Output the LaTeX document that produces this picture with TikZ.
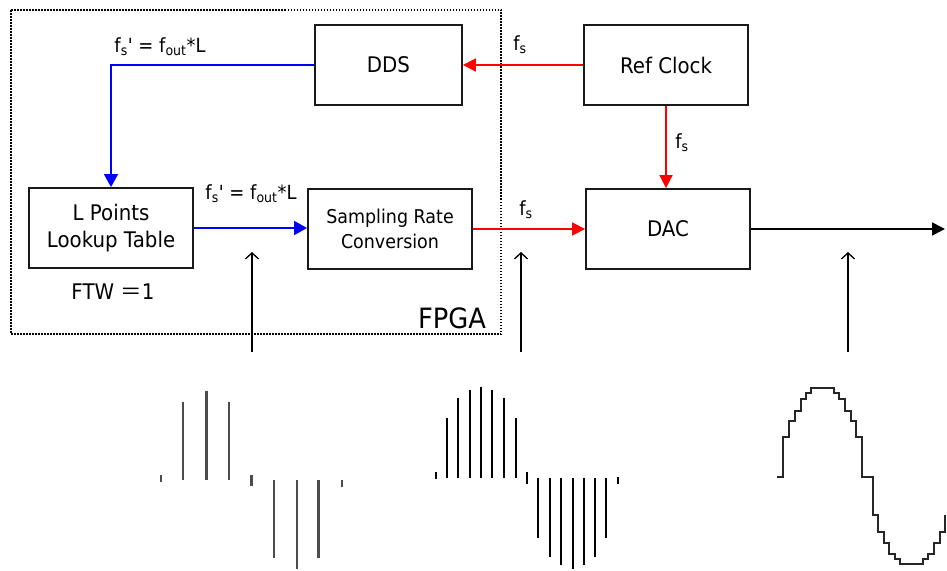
\documentclass[tikz,border=0pt]{standalone}
\usepackage{fontspec}
\newfontfamily\tah[FakeStretch=0.92]{DejaVu Sans}
\newfontfamily\cjkf{Noto Sans CJK SC}
\usetikzlibrary{arrows.meta}
\tikzset{
  box/.style={draw=black!90, line width=1.8pt, inner sep=0pt, minimum width=164pt, minimum height=80pt, align=center, font=\tah\fontsize{21.5}{26.5}\selectfont},
  redc/.style={draw=red, line width=1.6pt, -{Triangle[length=13pt,width=13pt]}},
  bluec/.style={draw=blue, line width=1.6pt, -{Triangle[length=13pt,width=14pt]}},
  blackc/.style={draw=black, line width=1.6pt, -{Triangle[length=13pt,width=13pt]}},
  lbl/.style={inner sep=0pt, font=\tah\fontsize{19.5}{22}\selectfont},
  upar/.style={draw=black, line width=1.3pt, -{Straight Barb[length=6pt,width=13pt]}},
  stemA/.style={draw=black!70, line width=2.4pt},
  stemB/.style={draw=black, line width=2pt},
  stair/.style={draw=black!85, line width=1.8pt},
  frame/.style={draw=black, line width=1.6pt, dash pattern=on 1.5pt off 1.5pt}
}
\begin{document}
\begin{tikzpicture}[x=1pt,y=-1pt]
\useasboundingbox (0,0) rectangle (947,570);
\fill[white] (0,0) rectangle (947,570);

% FPGA frame
\draw[frame] (11,10) rectangle (501,334);
\node[inner sep=0pt, font=\tah\fontsize{28}{30}\selectfont] (fpga) at (452,318) {FPGA};

% blocks
\node[box, minimum width=147pt] (dds) at (388.5,65) {DDS};
\node[box] (ref) at (666,65) {Ref Clock};
\node[box] (lpt) at (111,228) {L Points\\Lookup Table};
\node[box, font=\tah\fontsize{19}{24.7}\selectfont] (src) at (390,229) {Sampling Rate\\Conversion};
\node[box] (dac) at (668,229) {DAC};

% connectors
\draw[redc] (ref.west) -- (dds.east);
\draw[redc] (ref.south) -- (ref.south |- dac.north);
\draw[redc] (src.east) -- (dac.west);
\draw[bluec] (dds.west) -| (lpt.north);
\draw[bluec] (lpt.east) -- (lpt.east -| src.west);
\coordinate (out) at (945,229);
\draw[blackc] (dac.east) -- (out);

% labels
\node[lbl] (l1) at (160,47) {f\textsubscript{s}' = f\textsubscript{out}*L};
\node[lbl] (l2) at (251,194) {f\textsubscript{s}' = f\textsubscript{out}*L};
\node[lbl] (l3) at (520,45) {f\textsubscript{s}};
\node[lbl] (l4) at (682,143) {f\textsubscript{s}};
\node[lbl] (l5) at (526,210) {f\textsubscript{s}};
\node[inner sep=0pt, font=\tah\fontsize{21.5}{24}\selectfont] (ftw) at (113,292) {FTW {\cjkf ＝}1};

% upward arrows
\coordinate (u1a) at (252,352); \coordinate (u1b) at (252,252);
\coordinate (u2a) at (521,352); \coordinate (u2b) at (521,252);
\coordinate (u3a) at (848,352); \coordinate (u3b) at (848,252);
\draw[upar] (u1a) -- (u1b);
\draw[upar] (u2a) -- (u2b);
\draw[upar] (u3a) -- (u3b);

% waveform 1: L-point samples
\foreach \x/\a/\b in {161/475/482, 182.7/401.7/480, 206.3/390.7/480, 228.7/401.7/480, 251.3/475/486, 273.7/480/557.7, 296.7/480/569, 318.3/480/557.7, 342/480/487}
  \draw[stemA] (\x,\a) -- (\x,\b);

% waveform 2: converted samples
\foreach \x/\a/\b in {436/472/479, 447/417.7/478, 458.3/398.3/478, 470.3/390/478, 481.3/386.7/478, 492.3/390/478, 504/398.3/478, 516/417.7/478, 527/472/484, 538/478/538.3, 549.7/478/556.7, 560.7/478/565, 572.7/478/569.3, 583.7/478/565, 595/478/556.7, 606.3/478/538.3, 618.3/477/484}
  \draw[stemB] (\x,\a) -- (\x,\b);

% waveform 3: DAC staircase
\begin{scope}[xshift=760pt, yshift=-370pt, x=0.33333pt, y=-0.33333pt]
\draw[stair] (52,320) -- (70,320) -- (70,202) -- (88,202) -- (88,153) -- (104,153) -- (104,123) -- (122,123) -- (122,88) -- (137,88) -- (137,70) -- (153,70) -- (153,53) -- (222,53) -- (222,70) -- (238,70) -- (238,88) -- (255,88) -- (255,123) -- (272,123) -- (272,153) -- (288,153) -- (288,202) -- (305,202) -- (305,320) -- (340,320) -- (340,436) -- (354,436) -- (354,486) -- (372,486) -- (372,518) -- (388,518) -- (388,551) -- (404,551) -- (404,568) -- (420,568) -- (420,583) -- (490,583) -- (490,568) -- (505,568) -- (505,551) -- (522,551) -- (522,518) -- (540,518) -- (540,486) -- (556,486) -- (556,436);
\end{scope}
\end{tikzpicture}
\end{document}
